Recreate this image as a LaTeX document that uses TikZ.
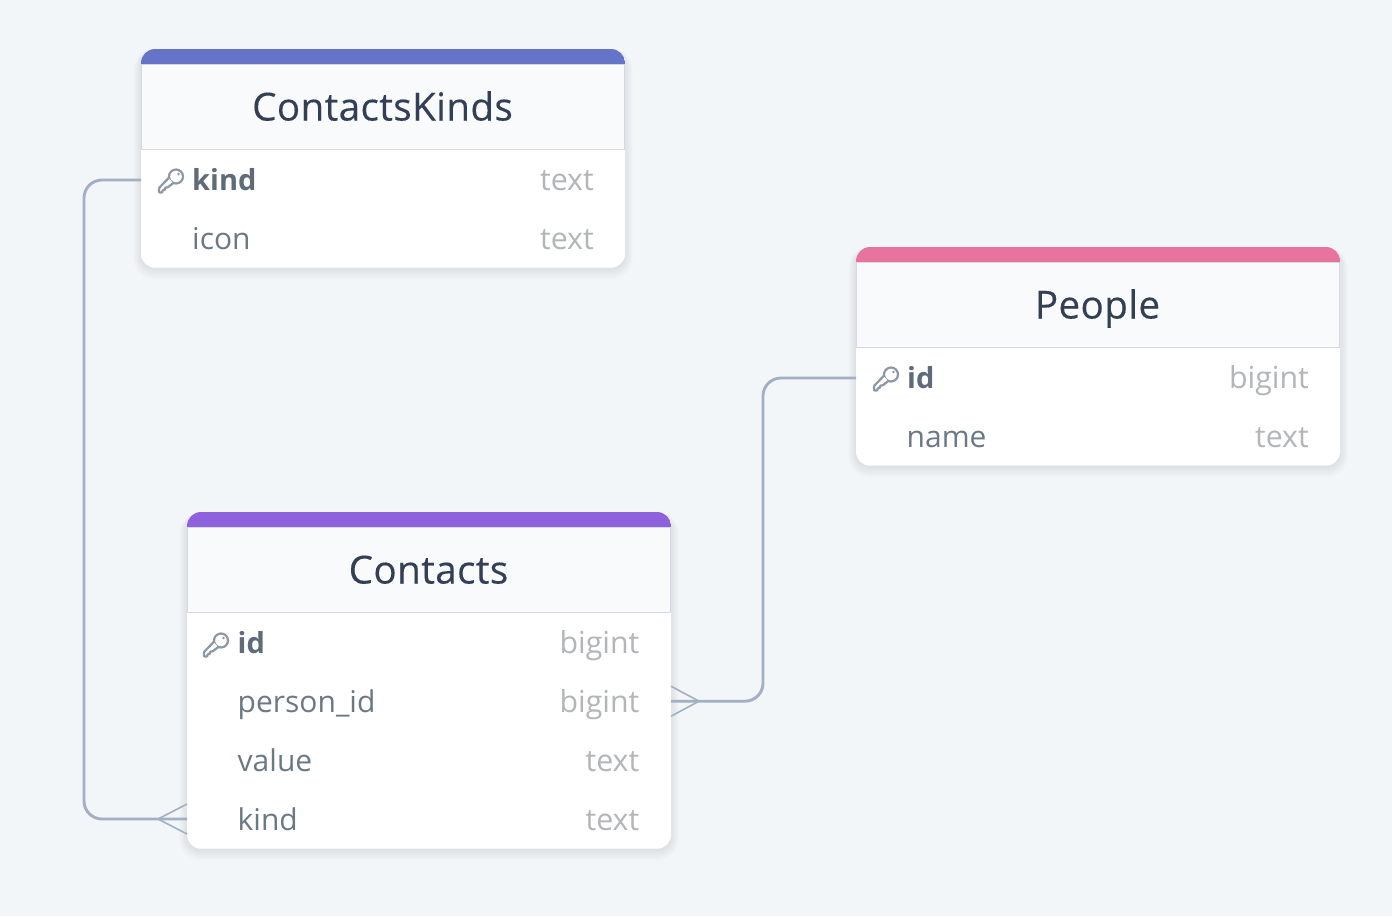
\documentclass[tikz,border=0pt]{standalone}
\usepackage{fontspec}
\setmainfont{Open Sans}
\newfontfamily\titlefont[FakeBold=0.25,LetterSpace=1.0]{Open Sans}
\usetikzlibrary{calc}
\definecolor{bgc}{HTML}{F3F6F9}
\definecolor{conc}{HTML}{A3AFC2}
\definecolor{hdrc}{HTML}{F8FAFC}
\definecolor{edgec}{HTML}{D3DAE5}
\definecolor{titlec}{HTML}{333F54}
\definecolor{colc}{HTML}{6D7886}
\definecolor{keyc}{HTML}{5F6B78}
\definecolor{typec}{HTML}{B3B5B8}
\definecolor{iconc}{HTML}{8D97A5}
\definecolor{blueT}{HTML}{6574C8}
\definecolor{purpT}{HTML}{8E62DC}
\definecolor{pinkT}{HTML}{E8739C}
\tikzset{
  x=1pt,y=-1pt,
  titletext/.style={font=\titlefont\fontsize{38.6}{42}\selectfont,text=titlec,anchor=base,inner sep=0},
  coltext/.style={font=\fontsize{30}{34}\selectfont,text=colc,anchor=base west,inner sep=0},
  keytext/.style={font=\fontsize{29}{34}\selectfont\bfseries,text=keyc,anchor=base west,inner sep=0},
  typetext/.style={font=\fontsize{30.3}{34}\selectfont,text=typec,anchor=base east,inner sep=0},
  rowbox/.style={minimum height=59pt,inner sep=0,outer sep=0,anchor=north west},
  conn/.style={draw=conc,line width=2.9pt,rounded corners=18pt},
  foot/.style={draw=conc,line width=1.6pt},
  keyicon/.pic={
    \begin{scope}[draw=iconc,line width=2.2pt,line join=round]
      \draw (5,-4.5) circle (7);
      \fill[white] (-2.5,-3) -- (-12,7) -- (-12,11.5) -- (-8.5,11.5) -- (-8.5,9) -- (-6,9) -- (-6,6.5) -- (-3.5,6.5) -- (2,2) -- cycle;
      \draw[rounded corners=0.8pt] (-1.6,-3.8) -- (-12,7) -- (-12,11.5) -- (-8.5,11.5) -- (-8.5,9) -- (-6,9) -- (-6,6.5) -- (-3.5,6.5) -- (2.5,1.8);
      \fill[iconc] (7.5,-7) circle (1.4);
    \end{scope}
  }
}
% #1 name, #2 x, #3 y, #4 height, #5 colour, #6 title
\newcommand{\dbtable}[6]{
  \foreach \i in {1,...,10}{
    \fill[black,opacity=.009,rounded corners={14pt+\i*0.8pt}]
      ($(#2,#3)+(-\i*0.8,-\i*0.3+3)$) rectangle ($(#2+484,#3+#4)+(\i*0.8,\i*1.1+1)$);
  }
  \fill[white,rounded corners=14pt] (#2,#3) rectangle (#2+484,#3+#4);
  \begin{scope}
    \clip[rounded corners=14pt] (#2,#3) rectangle (#2+484,#3+#4);
    \fill[hdrc] (#2,#3+15) rectangle (#2+484,#3+100);
    \draw[edgec,line width=2.6pt] (#2,#3+15) -- (#2,#3+100) (#2+484,#3+100) -- (#2+484,#3+15);
    \draw[edgec,line width=1.6pt] (#2,#3+100.5) -- (#2+484,#3+100.5);
    \fill[edgec] (#2,#3+14.5) rectangle (#2+484,#3+16);
    \fill[#5] (#2,#3) rectangle (#2+484,#3+14.5);
  \end{scope}
  \node[titletext] (#1title) at (#2+241.5,#3+71.5) {#6};
}
\begin{document}
\begin{tikzpicture}
\useasboundingbox (0,0) rectangle (1392,916);
\fill[bgc] (0,0) rectangle (1392,916);

% ContactsKinds
\dbtable{ck}{141}{49}{218.7}{blueT}{ContactsKinds}
\node[rowbox,minimum width=484pt] (ckkind) at (141,150.5) {};
\node[rowbox,minimum width=484pt] (ckicon) at (141,209) {};
\pic at (171,181) {keyicon};
\node[keytext] (ckkindn) at (192,190) {kind};
\node[typetext] (ckkindt) at (594,190) {text};
\node[coltext] (ckiconn) at (192,249) {icon};
\node[typetext] (ckicont) at (594,249) {text};

% People
\dbtable{pe}{856}{247}{218.7}{pinkT}{People}
\node[rowbox,minimum width=484pt] (peid) at (856,348.5) {};
\node[rowbox,minimum width=484pt] (pename) at (856,407) {};
\pic at (886,379) {keyicon};
\node[keytext] (peidn) at (907,388) {id};
\node[typetext] (peidt) at (1309,388) {bigint};
\node[coltext] (penamen) at (906.5,447) {name};
\node[typetext] (penamet) at (1309,447) {text};

% Contacts
\dbtable{co}{187}{512}{336.7}{purpT}{Contacts}
\node[rowbox,minimum width=484pt] (coid) at (187,613) {};
\node[rowbox,minimum width=484pt] (coperson) at (187,671.7) {};
\node[rowbox,minimum width=484pt] (covalue) at (187,731) {};
\node[rowbox,minimum width=484pt] (cokind) at (187,789.5) {};
\pic at (216,645) {keyicon};
\node[keytext] (coidn) at (237.5,653) {id};
\node[typetext] (coidt) at (639.5,653) {bigint};
\node[coltext] (copersonn) at (237.5,712) {person\_id};
\node[typetext] (copersont) at (639.5,712) {bigint};
\node[coltext] (covaluen) at (237.5,771) {value};
\node[typetext] (covaluet) at (639.5,771) {text};
\node[coltext] (cokindn) at (237.5,830) {kind};
\node[typetext] (cokindt) at (639.5,830) {text};

% Connectors
\draw[conn] (ckkind.west) -- ++(-57,0) |- (cokind.west);
\draw[conn] (coperson.east) -- ++(92,0) |- (peid.west);
\draw[foot] ($(cokind.west)+(-29,0)$) -- ($(cokind.west)+(0,-15)$);
\draw[foot] ($(cokind.west)+(-29,0)$) -- ($(cokind.west)+(0,15)$);
\draw[foot] ($(coperson.east)+(28,0)$) -- ($(coperson.east)+(0,-15)$);
\draw[foot] ($(coperson.east)+(28,0)$) -- ($(coperson.east)+(0,15)$);
\end{tikzpicture}
\end{document}
